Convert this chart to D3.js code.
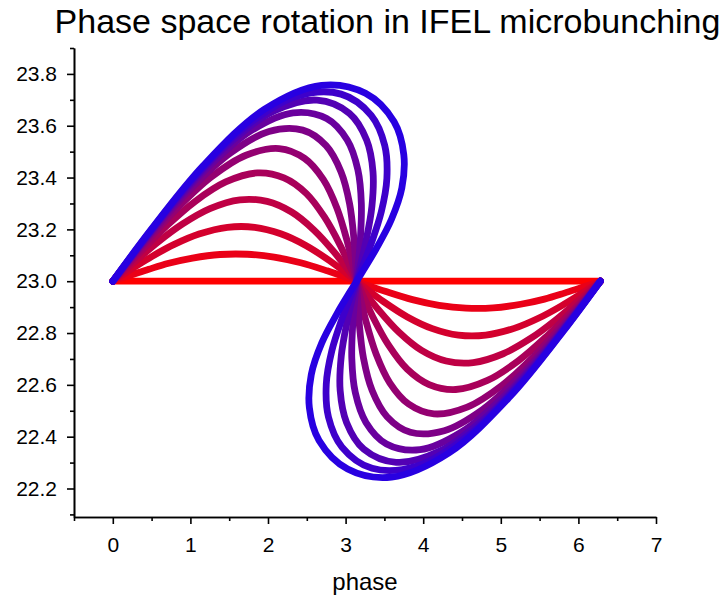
<!DOCTYPE html>
<html><head><meta charset="utf-8">
<script src="https://cdn.jsdelivr.net/npm/d3@7/dist/d3.min.js"></script>
<style>
body{margin:0;background:#fff}
svg{display:block}
text{font-family:"Liberation Sans",Arial,Helvetica,sans-serif;fill:#000}
</style>
</head><body>
<svg id="chart" width="725" height="599"></svg>
<script>
// ---------- data ----------
const titleText = "Phase space rotation in IFEL microbunching";
const xLabelText = "phase";
const xTickValues = [0,1,2,3,4,5,6,7];
const xMinorTicks = [-0.5,0.5,1.5,2.5,3.5,4.5,5.5,6.5];
const yTickValues = [22.2,22.4,22.6,22.8,23.0,23.2,23.4,23.6,23.8];
const yMinorTicks = [22.1,22.3,22.5,22.7,22.9,23.1,23.3,23.5,23.7,23.9];

// snapshots of the bunch: [phase, energy] along the particle line
const snap0 = [[0,23],[3.142,23],[6.283,23]];
const snap1 = [[0,23],[0.103,23.011],[0.258,23.026],[0.464,23.046],[0.721,23.069],[1.027,23.089],[1.382,23.103],[1.732,23.104],[2.079,23.093],[2.422,23.071],[2.762,23.040],[3.005,23.015],[3.142,23],
  [3.278,22.985],[3.521,22.960],[3.861,22.929],[4.204,22.907],[4.551,22.896],[4.901,22.897],[5.256,22.911],[5.562,22.931],[5.819,22.954],[6.025,22.974],[6.180,22.989],[6.283,23]];
const snap2 = [[0,23],[0.113,23.022],[0.283,23.055],[0.507,23.096],[0.785,23.141],[1.111,23.182],[1.477,23.208],[1.829,23.208],[2.164,23.183],[2.487,23.138],[2.799,23.078],[3.018,23.029],[3.142,23],
  [3.265,22.971],[3.484,22.922],[3.796,22.862],[4.119,22.817],[4.454,22.792],[4.806,22.792],[5.172,22.818],[5.498,22.859],[5.776,22.904],[6.000,22.945],[6.170,22.978],[6.283,23]];
const snap3 = [[0,23],[0.131,23.035],[0.326,23.086],[0.582,23.151],[0.895,23.220],[1.252,23.280],[1.638,23.314],[1.988,23.308],[2.304,23.267],[2.591,23.198],[2.857,23.111],[3.039,23.041],[3.142,23],
  [3.244,22.959],[3.426,22.889],[3.692,22.802],[3.979,22.733],[4.295,22.692],[4.645,22.686],[5.031,22.720],[5.388,22.780],[5.701,22.849],[5.957,22.914],[6.152,22.965],[6.283,23]];
const snap4 = [[0,23],[0.156,23.050],[0.389,23.123],[0.693,23.213],[1.056,23.307],[1.455,23.383],[1.863,23.418],[2.206,23.399],[2.492,23.339],[2.729,23.247],[2.933,23.137],[3.067,23.050],[3.142,23],
  [3.216,22.950],[3.350,22.863],[3.554,22.753],[3.792,22.661],[4.077,22.601],[4.420,22.582],[4.828,22.617],[5.227,22.693],[5.590,22.787],[5.894,22.877],[6.127,22.950],[6.283,23]];
const snap5 = [[0,23],[0.192,23.068],[0.476,23.166],[0.842,23.285],[1.268,23.402],[1.716,23.486],[2.144,23.512],[2.471,23.474],[2.714,23.392],[2.890,23.281],[3.021,23.154],[3.099,23.056],[3.142,23],
  [3.184,22.944],[3.262,22.846],[3.393,22.719],[3.569,22.608],[3.812,22.526],[4.139,22.488],[4.567,22.514],[5.015,22.598],[5.441,22.715],[5.807,22.834],[6.092,22.932],[6.283,23]];
const snap6 = [[0,23],[0.234,23.088],[0.580,23.214],[1.020,23.361],[1.516,23.495],[2.012,23.578],[2.448,23.583],[2.749,23.523],[2.941,23.422],[3.052,23.298],[3.108,23.161],[3.131,23.059],[3.142,23],
  [3.152,22.941],[3.175,22.839],[3.231,22.702],[3.342,22.578],[3.534,22.477],[3.835,22.417],[4.271,22.423],[4.767,22.505],[5.263,22.639],[5.703,22.786],[6.049,22.912],[6.283,23]];
const snap7 = [[0,23],[0.284,23.110],[0.701,23.266],[1.222,23.439],[1.788,23.582],[2.323,23.650],[2.756,23.628],[3.021,23.545],[3.158,23.430],[3.203,23.299],[3.190,23.161],[3.161,23.058],[3.142,23],
  [3.122,22.942],[3.093,22.839],[3.080,22.701],[3.125,22.570],[3.262,22.455],[3.527,22.372],[3.960,22.350],[4.495,22.418],[5.061,22.561],[5.582,22.734],[5.999,22.890],[6.283,23]];
const snap8 = [[0,23],[0.340,23.134],[0.835,23.320],[1.441,23.516],[2.072,23.656],[2.632,23.699],[3.049,23.648],[3.271,23.545],[3.353,23.422],[3.339,23.289],[3.262,23.154],[3.187,23.056],[3.142,23],
  [3.096,22.944],[3.021,22.846],[2.944,22.711],[2.930,22.578],[3.012,22.455],[3.234,22.352],[3.651,22.301],[4.211,22.344],[4.842,22.484],[5.448,22.680],[5.943,22.866],[6.283,23]];
const snap9 = [[0,23],[0.404,23.162],[0.987,23.380],[1.680,23.590],[2.370,23.714],[2.942,23.722],[3.330,23.640],[3.504,23.524],[3.532,23.397],[3.460,23.268],[3.326,23.142],[3.210,23.051],[3.142,23],
  [3.073,22.949],[2.957,22.858],[2.823,22.732],[2.751,22.603],[2.779,22.476],[2.953,22.360],[3.341,22.278],[3.913,22.286],[4.603,22.410],[5.296,22.620],[5.879,22.838],[6.283,23]];
const snap10 = [[0,23],[0.480,23.194],[1.166,23.446],[1.952,23.663],[2.690,23.756],[3.257,23.725],[3.625,23.615],[3.750,23.488],[3.725,23.360],[3.590,23.238],[3.392,23.124],[3.234,23.045],[3.142,23],
  [3.049,22.955],[2.891,22.876],[2.693,22.762],[2.558,22.640],[2.533,22.512],[2.658,22.385],[3.026,22.275],[3.593,22.244],[4.331,22.337],[5.117,22.554],[5.803,22.806],[6.283,23]];
const snapshots = [snap0,snap1,snap2,snap3,snap4,snap5,snap6,snap7,snap8,snap9,snap10];

// ---------- layout ----------
const svg = d3.select("#chart");
const x = d3.scaleLinear().domain([-0.5,7]).range([74,656]);
const y = d3.scaleLinear().domain([22.09,23.9]).range([517,48]);
const colorAt = d3.interpolateRgb("rgb(255,0,0)","rgb(40,0,225)");

const line = d3.line().x(d=>x(d[0])).y(d=>y(d[1])).curve(d3.curveCatmullRom.alpha(0.5));

svg.append("g").selectAll("path").data(snapshots).join("path")
  .attr("d", line)
  .attr("fill","none")
  .attr("stroke",(d,i)=>colorAt(i/(snapshots.length-1)))
  .attr("stroke-width",6.8)
  .attr("stroke-linecap","round")
  .attr("stroke-linejoin","round");

// axes
svg.append("g").attr("transform","translate(74,0)")
  .call(d3.axisLeft(y).tickValues(yTickValues).tickFormat(d3.format(".1f")).tickSize(7).tickSizeOuter(0).tickPadding(10));
svg.append("g").attr("transform","translate(74,0)")
  .call(d3.axisLeft(y).tickValues(yMinorTicks).tickFormat("").tickSize(4).tickSizeOuter(0));
svg.append("g").attr("transform","translate(0,517)")
  .call(d3.axisBottom(x).tickValues(xTickValues).tickFormat(d3.format("d")).tickSize(7).tickSizeOuter(0).tickPadding(13));
svg.append("g").attr("transform","translate(0,517)")
  .call(d3.axisBottom(x).tickValues(xMinorTicks).tickFormat("").tickSize(4).tickSizeOuter(0));
svg.selectAll(".domain, .tick line").attr("stroke","#000").attr("stroke-width",1.6);
svg.selectAll(".tick text").attr("font-size",21).attr("font-family","'Liberation Sans',Arial,sans-serif").attr("fill","#000");

svg.append("text").attr("x",365).attr("y",590).attr("text-anchor","middle")
  .attr("font-size",24).text(xLabelText);
svg.append("text").attr("x",387.5).attr("y",33).attr("text-anchor","middle")
  .attr("font-size",34).text(titleText);
</script>
</body></html>
